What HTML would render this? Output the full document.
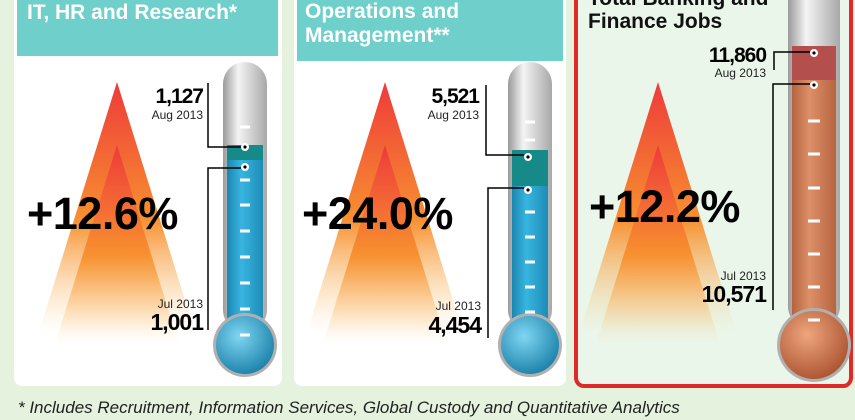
<!DOCTYPE html>
<html><head><meta charset="utf-8"><style>
html,body{margin:0;padding:0;background:#e4f2de;}
svg{display:block;font-family:"Liberation Sans",sans-serif;}
</style></head><body>
<svg width="855" height="420" viewBox="0 0 855 420" xmlns="http://www.w3.org/2000/svg">
<defs>
<linearGradient id="tri" x1="0" y1="0" x2="0" y2="1">
<stop offset="0" stop-color="#ee3a3a"/><stop offset="0.55" stop-color="#f7902f"/><stop offset="1" stop-color="#fbd08a" stop-opacity="0"/>
</linearGradient>
<linearGradient id="glass" x1="0" y1="0" x2="1" y2="0">
<stop offset="0" stop-color="#9a9a9a"/><stop offset="0.35" stop-color="#f4f4f4"/><stop offset="1" stop-color="#a8a8a8"/>
</linearGradient>
<linearGradient id="blue" x1="0" y1="0" x2="1" y2="0">
<stop offset="0" stop-color="#1b87b0"/><stop offset="0.4" stop-color="#37b5e0"/><stop offset="1" stop-color="#1d8cb6"/>
</linearGradient>
<linearGradient id="copper" x1="0" y1="0" x2="1" y2="0">
<stop offset="0" stop-color="#b5633f"/><stop offset="0.4" stop-color="#dc9068"/><stop offset="1" stop-color="#b7643f"/>
</linearGradient>
<radialGradient id="bblue" cx="0.4" cy="0.35" r="0.7"><stop offset="0" stop-color="#7fd6f2"/><stop offset="1" stop-color="#1a7fa8"/></radialGradient>
<radialGradient id="bcop" cx="0.4" cy="0.35" r="0.7"><stop offset="0" stop-color="#efa57d"/><stop offset="1" stop-color="#a9532f"/></radialGradient>
<g id="tris">
<polygon points="0,0 -78,250 78,250" fill="url(#tri)"/>
<polygon points="0,63 -62,262 62,262" fill="url(#tri)"/>
</g>
</defs>
<rect width="855" height="420" fill="#e4f2de"/>
<!-- panel 1 -->
<rect x="14" y="-10" width="268" height="396" rx="8" fill="#fff"/>
<rect x="17" y="-5" width="261" height="61" fill="#6fcfca"/>
<text x="27" y="19" fill="#fff" font-size="21" font-weight="bold">IT, HR and Research*</text>
<use href="#tris" x="117" y="82"/>
<!-- panel 2 -->
<rect x="294" y="-10" width="272" height="396" rx="8" fill="#fff"/>
<rect x="297" y="-5" width="266" height="66" fill="#6fcfca"/>
<text x="305" y="18" fill="#fff" font-size="21" font-weight="bold">Operations and</text>
<text x="305" y="42" fill="#fff" font-size="21" font-weight="bold">Management**</text>
<use href="#tris" x="385" y="82"/>
<!-- panel 3 -->
<rect x="576" y="-10" width="275" height="396" rx="8" fill="#eaf6ea" stroke="#e02a2a" stroke-width="4"/>
<text x="588" y="5" fill="#111" font-size="21" font-weight="bold">Total Banking and</text>
<text x="588" y="28" fill="#111" font-size="21" font-weight="bold">Finance Jobs</text>
<use href="#tris" x="658" y="82"/>

<!-- thermometer 1 -->
<rect x="223" y="62" width="44" height="270" rx="22" fill="url(#glass)"/>
<rect x="227" y="145" width="36" height="16" fill="#168a88"/>
<rect x="227" y="160" width="36" height="175" fill="url(#blue)"/>
<circle cx="245" cy="345" r="32" fill="#b0b0b0"/><circle cx="245" cy="345" r="29" fill="url(#bblue)"/>
<g stroke="#fff" stroke-width="3"><line x1="240" x2="250" y1="127" y2="127"/><line x1="240" x2="250" y1="180" y2="180"/><line x1="240" x2="250" y1="205" y2="205"/><line x1="240" x2="250" y1="231" y2="231"/><line x1="240" x2="250" y1="257" y2="257"/><line x1="240" x2="250" y1="283" y2="283"/><line x1="240" x2="250" y1="309" y2="309"/><line x1="240" x2="250" y1="335" y2="335"/></g>
<circle cx="245" cy="147" r="4" fill="#fff"/><circle cx="245" cy="147" r="1.6" fill="#000"/>
<circle cx="245" cy="167" r="4" fill="#fff"/><circle cx="245" cy="167" r="1.6" fill="#000"/>
<polyline points="208,83 208,147 241,147" fill="none" stroke="#000" stroke-width="1.5"/>
<polyline points="208,330 208,168 241,168" fill="none" stroke="#000" stroke-width="1.5"/>
<text x="203" y="103" text-anchor="end" font-size="21" font-weight="bold" letter-spacing="-1">1,127</text>
<text x="203" y="119" text-anchor="end" font-size="12" fill="#222">Aug 2013</text>
<text x="203" y="308" text-anchor="end" font-size="12" fill="#222">Jul 2013</text>
<text x="203" y="330" text-anchor="end" font-size="23" font-weight="bold" letter-spacing="-1">1,001</text>
<text x="27" y="229" font-size="45" font-weight="bold" letter-spacing="-0.5">+12.6%</text>

<!-- thermometer 2 -->
<rect x="508" y="62" width="44" height="270" rx="22" fill="url(#glass)"/>
<rect x="512" y="150" width="36" height="38" fill="#168a88"/>
<rect x="512" y="186" width="36" height="150" fill="url(#blue)"/>
<circle cx="530" cy="345" r="32" fill="#b0b0b0"/><circle cx="530" cy="345" r="29" fill="url(#bblue)"/>
<g stroke="#fff" stroke-width="3"><line x1="525" x2="535" y1="122" y2="122"/><line x1="525" x2="535" y1="140" y2="140"/><line x1="525" x2="535" y1="212" y2="212"/><line x1="525" x2="535" y1="237" y2="237"/><line x1="525" x2="535" y1="262" y2="262"/><line x1="525" x2="535" y1="287" y2="287"/><line x1="525" x2="535" y1="312" y2="312"/></g>
<circle cx="528" cy="157" r="4" fill="#fff"/><circle cx="528" cy="157" r="1.6" fill="#000"/>
<circle cx="528" cy="190" r="4" fill="#fff"/><circle cx="528" cy="190" r="1.6" fill="#000"/>
<polyline points="486,85 486,155 524,155" fill="none" stroke="#000" stroke-width="1.5"/>
<polyline points="488,338 488,188 524,188" fill="none" stroke="#000" stroke-width="1.5"/>
<text x="479" y="103" text-anchor="end" font-size="21" font-weight="bold" letter-spacing="-1">5,521</text>
<text x="479" y="119" text-anchor="end" font-size="12" fill="#222">Aug 2013</text>
<text x="481" y="310" text-anchor="end" font-size="12" fill="#222">Jul 2013</text>
<text x="481" y="333" text-anchor="end" font-size="23" font-weight="bold" letter-spacing="-1">4,454</text>
<text x="302" y="229" font-size="45" font-weight="bold" letter-spacing="-0.5">+24.0%</text>

<!-- thermometer 3 -->
<rect x="788" y="-30" width="52" height="360" rx="24" fill="url(#glass)"/>
<rect x="792" y="46" width="44" height="36" fill="#b34f4c"/>
<rect x="792" y="80" width="44" height="260" fill="url(#copper)"/>
<circle cx="814" cy="345" r="37" fill="#b0b0b0"/><circle cx="814" cy="345" r="34" fill="url(#bcop)"/>
<g stroke="#fff" stroke-width="3"><line x1="808" x2="820" y1="121" y2="121"/><line x1="808" x2="820" y1="154" y2="154"/><line x1="808" x2="820" y1="188" y2="188"/><line x1="808" x2="820" y1="221" y2="221"/><line x1="808" x2="820" y1="254" y2="254"/><line x1="808" x2="820" y1="287" y2="287"/><line x1="808" x2="820" y1="320" y2="320"/></g>
<circle cx="814" cy="53" r="4" fill="#fff"/><circle cx="814" cy="53" r="1.6" fill="#000"/>
<circle cx="814" cy="85" r="4" fill="#fff"/><circle cx="814" cy="85" r="1.6" fill="#000"/>
<polyline points="774,70 774,52 810,52" fill="none" stroke="#000" stroke-width="1.5"/>
<polyline points="773,310 773,84 810,84" fill="none" stroke="#000" stroke-width="1.5"/>
<text x="766" y="62" text-anchor="end" font-size="21" font-weight="bold" letter-spacing="-1">11,860</text>
<text x="766" y="77" text-anchor="end" font-size="12" fill="#222">Aug 2013</text>
<text x="766" y="280" text-anchor="end" font-size="12" fill="#222">Jul 2013</text>
<text x="766" y="302" text-anchor="end" font-size="23" font-weight="bold" letter-spacing="-1">10,571</text>
<text x="589" y="222" font-size="45" font-weight="bold" letter-spacing="-0.5">+12.2%</text>

<text x="18" y="413" font-size="17" font-style="italic" fill="#222">* Includes Recruitment, Information Services, Global Custody and Quantitative Analytics</text>
</svg>
</body></html>
